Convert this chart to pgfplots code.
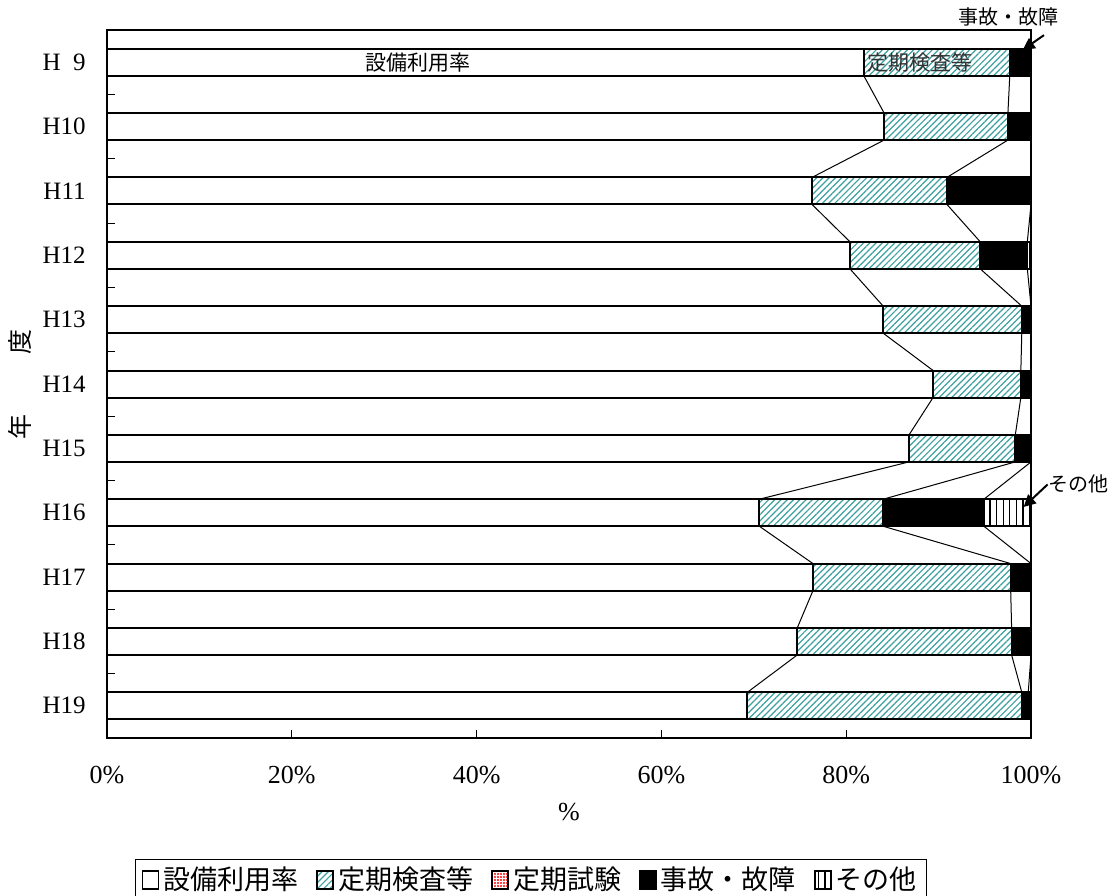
\documentclass[border=0pt]{standalone}
\usepackage{fontspec}
\setmainfont{Liberation Serif}
\newfontfamily\jp{Noto Sans CJK JP}
\usepackage{pgfplots}
\usepackage{pgfplotstable}
\pgfplotsset{compat=1.18}
\usetikzlibrary{patterns,patterns.meta,arrows.meta}
\definecolor{hatch}{RGB}{60,160,160}

\pgfplotstableread{
pos util insp test acc other
0 81.9 15.8 0 2.3 0
1 84.1 13.4 0 2.5 0
2 76.3 14.6 0 9.1 0
3 80.4 14.1 0 5.1 0.4
4 84.0 15.0 0 1.0 0
5 89.4 9.5 0 1.1 0
6 86.8 11.5 0 1.7 0
7 70.6 13.4 0 10.9 5.1
8 76.4 21.4 0 2.2 0
9 74.7 23.2 0 2.1 0
10 69.3 29.7 0 0.7 0.3
}\data

\pgfplotstableread{
pos c1 c2 c3
-0.21 81.9 97.7 100
0.21 81.9 97.7 100
0.79 84.1 97.5 100
1.21 84.1 97.5 100
1.79 76.3 90.9 100
2.21 76.3 90.9 100
2.79 80.4 94.5 99.6
3.21 80.4 94.5 99.6
3.79 84.0 99.0 100
4.21 84.0 99.0 100
4.79 89.4 98.9 100
5.21 89.4 98.9 100
5.79 86.8 98.3 100
6.21 86.8 98.3 100
6.79 70.6 84.0 94.9
7.21 70.6 84.0 94.9
7.79 76.4 97.8 100
8.21 76.4 97.8 100
8.79 74.7 97.9 100
9.21 74.7 97.9 100
9.79 69.3 99.0 99.7
10.21 69.3 99.0 99.7
}\slines

\pgfplotsset{base/.style={width=462pt,height=354pt,scale only axis,
  xmin=0,xmax=100,ymin=-0.5,ymax=10.5,y dir=reverse,
  at={(0,0)},anchor=south west}}

\begin{document}
\begin{tikzpicture}
\useasboundingbox (-53.5pt,-78.5pt) rectangle (502.5pt,369pt);
\begin{axis}[base, hide axis]
\addplot[black, line width=0.5pt] table[x=c1,y=pos]{\slines};
\addplot[black, line width=0.5pt] table[x=c2,y=pos]{\slines};
\addplot[black, line width=0.5pt] table[x=c3,y=pos]{\slines};
\end{axis}
\begin{axis}[base,
  xbar stacked, bar width=13.5pt,
  clip=false,
  axis line style={line width=0.6pt},
  xtick={0,20,...,100},
  xticklabel={\pgfmathprintnumber{\tick}\%},
  /pgf/number format/assume math mode=true,
  xtick pos=bottom,
  ytick pos=left,
  tick align=inside,
  major tick length=4pt,
  tick style={black, line width=0.5pt},
  ytick={0.5,1.5,...,9.5},
  yticklabels={},
  extra y ticks={0,1,...,10},
  extra y tick labels={H\phantom{1}9,H10,H11,H12,H13,H14,H15,H16,H17,H18,H19},
  extra y tick style={major tick length=0pt},
  yticklabel style={font=\fontsize{12.5}{15}\selectfont, inner sep=0pt, xshift=-10.5pt},
  xticklabel style={font=\fontsize{13}{15}\selectfont, inner sep=0pt, yshift=-14pt},
  xlabel={\%},
  xlabel style={font=\fontsize{13}{15}\selectfont, at={(axis description cs:0.5,-0.105)}, anchor=center},
  ylabel={{\jp 年\hspace{30pt}度}},
  ylabel style={font=\fontsize{12.5}{14}\selectfont, yshift=2pt},
  legend columns=-1,
  legend style={at={(0.459,-0.171)}, anchor=north, draw=black, line width=0.6pt,
    font=\jp\fontsize{13.5}{15}\selectfont, inner xsep=3pt, inner ysep=1.5pt,
    /tikz/every even column/.append style={column sep=7pt}},
  legend image code/.code={\draw[#1, line width=0.9pt] (0pt,-4.5pt) rectangle (8pt,4.5pt);},
]
\addplot[fill=white, draw=black, line width=1pt] table[x=util,y=pos]{\data};
\addplot[pattern={Lines[angle=45,distance=2.2pt,line width=0.6pt]}, pattern color=hatch, draw=black, line width=1pt] table[x=insp,y=pos]{\data};
\addplot[pattern={Dots[radius=0.55pt,distance=1.5pt]}, pattern color=red, draw=black, line width=1pt] table[x=test,y=pos]{\data};
\addplot[fill=black, draw=black, line width=1pt] table[x=acc,y=pos]{\data};
\addplot[pattern={Lines[angle=90,distance=3.3pt,line width=0.6pt]}, pattern color=black, draw=black, line width=1pt] table[x=other,y=pos]{\data};
\addlegendentry{設備利用率}
\addlegendentry{定期検査等}
\addlegendentry{定期試験}
\addlegendentry{事故・故障}
\addlegendentry{その他}
\coordinate (t1) at (axis cs:33.7,0);
\coordinate (t2) at (axis cs:82.3,0);
\coordinate (t3) at (axis cs:97.6,-0.70);
\coordinate (a1s) at (axis cs:101.4,-0.42);
\coordinate (a1e) at (axis cs:99.1,-0.19);
\coordinate (t4) at (axis cs:101.9,6.55);
\coordinate (a2s) at (axis cs:101.8,6.56);
\coordinate (a2e) at (axis cs:99.2,6.91);
\end{axis}
\node[font=\jp\fontsize{10.5}{12}\selectfont] at (t1) {設備利用率};
\node[font=\jp\fontsize{10.5}{12}\selectfont, anchor=west, inner sep=0pt, text=black!80] at (t2) {定期検査等};
\node[font=\jp\fontsize{10}{12}\selectfont] at (t3) {事故・故障};
\draw[-{Triangle[length=6pt,width=6pt]}, line width=1pt] (a1s) -- (a1e);
\node[font=\jp\fontsize{10}{12}\selectfont, anchor=west, inner sep=0pt] at (t4) {その他};
\draw[-{Triangle[length=6pt,width=6pt]}, line width=1pt] (a2s) -- (a2e);
\end{tikzpicture}
\end{document}
